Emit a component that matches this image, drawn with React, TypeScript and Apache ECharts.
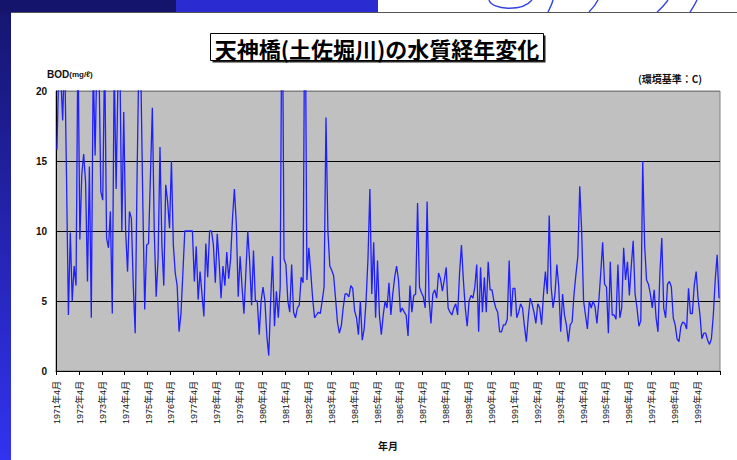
import React, { useEffect, useRef } from "react";
import * as echarts from "echarts";

// ---- data: BOD (mg/ℓ), monthly, April of each fiscal year to March of the next ----
const startYear = 1971;
const monthOrder = [4, 5, 6, 7, 8, 9, 10, 11, 12, 1, 2, 3];

const bod1971 = [15.8, 22, 21, 17.9, 23, 14, 4.0, 9.9, 5.0, 7.5, 6.1, 24];
const bod1972 = [9.4, 14, 15.5, 13.5, 6.4, 14.6, 3.8, 22, 15.4, 23, 22, 12.8];
const bod1973 = [12.2, 23, 9.5, 8.8, 11.4, 4.1, 22, 13, 21, 22, 10, 18.5];
const bod1974 = [10, 7.1, 11.4, 10.9, 6.1, 2.7, 14, 23, 21, 12, 4.4, 9.0];
const bod1975 = [9.1, 14, 18.8, 10, 5.3, 8, 16, 9, 6.1, 13.3, 12.1, 10.2];
const bod1976 = [15, 9, 7, 6.1, 2.8, 4.1, 7, 10, 10, 10, 10, 10];
const bod1977 = [6.4, 8.9, 5.1, 7.1, 5.5, 3.9, 9.1, 6.7, 10, 10, 9.0, 6.3];
const bod1978 = [9.8, 7.8, 5.2, 7.5, 6.1, 8.5, 6.6, 8, 10.9, 13, 10.5, 5.3];
const bod1979 = [8.2, 6, 4.1, 7, 10, 7.8, 4.7, 8.6, 5, 5, 2.6, 5];
const bod1980 = [6, 5, 2.5, 1.1, 5, 8.2, 3.2, 5.7, 3.8, 6, 30, 8];
const bod1981 = [7.6, 5, 4.2, 7.6, 4.2, 3.8, 4.5, 4.7, 6.7, 6.3, 30, 6.5];
const bod1982 = [8.8, 7.1, 5.2, 3.8, 4, 4.2, 4.1, 5, 6, 18.1, 10, 7.5];
const bod1983 = [7.2, 6.8, 5.2, 3.5, 2.7, 3.2, 4.5, 5.5, 5.5, 5.3, 6.1, 5.9];
const bod1984 = [4.3, 3.8, 2.6, 5, 2.2, 3, 5, 8, 13, 5.5, 9.2, 3.8];
const bod1985 = [7.9, 4, 2.6, 4, 5, 4.5, 6.3, 4, 5.5, 6.7, 7.5, 6.5];
const bod1986 = [4.2, 4.5, 4.2, 4, 2.5, 6.1, 4.2, 5.4, 5.5, 12, 6, 5.6];
const bod1987 = [5.3, 4.5, 12.1, 5.2, 3.4, 5.5, 5.8, 5.2, 7, 6.6, 5.7, 6.5];
const bod1988 = [7.4, 4.5, 4.2, 4, 4.5, 4.8, 4, 7, 9, 6.5, 4.5, 3.2];
const bod1989 = [5, 5.4, 5.2, 6, 7.6, 2.8, 7.4, 4.2, 6.7, 4.2, 7.8, 5.8];
const bod1990 = [5.8, 5, 4.5, 4.2, 2.8, 2.8, 3.3, 3.3, 3.7, 7.9, 3.9, 5.9];
const bod1991 = [5.9, 3.8, 4.2, 4.8, 4.5, 3.2, 2.1, 3.8, 5.2, 4.8, 4.2, 3.4];
const bod1992 = [4.8, 4.5, 3.3, 5.5, 7.1, 5.5, 11.1, 6, 4.5, 5.5, 7.6, 6];
const bod1993 = [2.8, 5.5, 4, 3.3, 2.1, 3.3, 3.5, 5.5, 6.9, 8.2, 13.2, 10];
const bod1994 = [5, 4, 3, 5, 4.5, 5, 4.6, 3.4, 5, 7, 9.2, 6.2];
const bod1995 = [6, 2.7, 7.8, 4, 4, 3.7, 7.6, 3.8, 4.5, 8.8, 6.5, 7.8];
const bod1996 = [5.4, 7.5, 9.3, 5.5, 4.5, 3.2, 3.6, 15, 9, 6.5, 6.2, 5.5];
const bod1997 = [4.5, 5.8, 3.8, 2.8, 7, 9.5, 4.5, 3.8, 6.2, 6.4, 6, 3.8];
const bod1998 = [3.3, 2.3, 2.1, 3.2, 3.5, 3.4, 3, 5.9, 4.1, 4.1, 6.1, 7.1];
const bod1999 = [5.2, 4, 2.3, 2.7, 2.7, 2.2, 1.9, 2.3, 4, 6.5, 8.3, 5.2];

const yearly = [
  bod1971, bod1972, bod1973, bod1974, bod1975, bod1976, bod1977, bod1978,
  bod1979, bod1980, bod1981, bod1982, bod1983, bod1984, bod1985, bod1986,
  bod1987, bod1988, bod1989, bod1990, bod1991, bod1992, bod1993, bod1994,
  bod1995, bod1996, bod1997, bod1998, bod1999,
];

const yTicks = [0, 5, 10, 15, 20];

const titleText = "天神橋(土佐堀川)の水質経年変化";
const yName = "BOD";
const yUnit = "(mg/ℓ)";
const standardText = "(環境基準：C)";
const xName = "年月";

const categories: string[] = [];
yearly.forEach((_, k) => {
  monthOrder.forEach((m) => {
    const y = m >= 4 ? startYear + k : startYear + k + 1;
    categories.push(`${y}年${m}月`);
  });
});
const values: number[] = ([] as number[]).concat(...yearly);

const FONT = "'Liberation Sans', Arial, 'Noto Sans CJK JP', sans-serif";
const JFONT = "'Noto Sans CJK JP', 'Liberation Sans', sans-serif";

export default function App() {
  const ref = useRef<HTMLDivElement>(null);
  useEffect(() => {
    if (!ref.current) return;
    const chart = echarts.init(ref.current, undefined, { renderer: "svg" });
    const option: any = {
      animation: false,
      backgroundColor: "#ffffff",
      grid: {
        left: 56,
        right: 17,
        top: 91,
        bottom: 89,
        show: true,
        backgroundColor: "#c0c0c0",
        borderColor: "#808080",
        borderWidth: 1,
      },
      xAxis: {
        type: "category",
        data: categories,
        boundaryGap: true,
        axisLine: { show: true, lineStyle: { color: "#000", width: 1 } },
        axisTick: { show: true, interval: 11, length: 4, lineStyle: { color: "#000" } },
        axisLabel: {
          interval: 11,
          rotate: 90,
          fontSize: 9,
          margin: 10,
          color: "#111",
          fontFamily: FONT,
        },
        splitLine: { show: false },
      },
      yAxis: {
        type: "value",
        min: yTicks[0],
        max: yTicks[yTicks.length - 1],
        interval: 5,
        axisLine: { show: true, lineStyle: { color: "#000", width: 1 } },
        axisTick: { show: false },
        axisLabel: {
          fontSize: 10,
          fontWeight: "bold",
          color: "#111",
          margin: 9,
          fontFamily: FONT,
        },
        splitLine: {
          show: true,
          lineStyle: { color: ["#000", "#000", "#000", "#000", "#808080"], width: 1 },
        },
      },
      series: [
        {
          type: "line",
          data: values,
          symbol: "none",
          clip: true,
          lineStyle: { color: "#1f1fff", width: 1.3 },
        },
      ],
      graphic: [
        // slide decorations
        {
          type: "rect",
          shape: { x: 0, y: 0, width: 11, height: 460 },
          style: {
            fill: new echarts.graphic.LinearGradient(0, 0, 0, 1, [
              { offset: 0, color: "#15156e" },
              { offset: 1, color: "#3232f0" },
            ]),
          },
          z: 10,
        },
        { type: "rect", shape: { x: 0, y: 0, width: 176, height: 12 }, style: { fill: "#14146c" }, z: 10 },
        { type: "rect", shape: { x: 176, y: 0, width: 202, height: 12 }, style: { fill: "#2b2bd2" }, z: 10 },
        {
          type: "line",
          shape: { x1: 11, y1: 12.5, x2: 737, y2: 12.5 },
          style: { stroke: "#555", lineWidth: 1 },
          z: 10,
        },
        {
          type: "bezierCurve",
          shape: { x1: 489, y1: 0, cpx1: 492, cpy1: 10, cpx2: 522, cpy2: 12, x2: 532, y2: 0 },
          style: { stroke: "#3344dd", lineWidth: 1.4, fill: null },
          z: 10,
        },
        {
          type: "bezierCurve",
          shape: { x1: 553, y1: 0, cpx1: 552, cpy1: 4, cpx2: 550, cpy2: 8, x2: 548, y2: 12 },
          style: { stroke: "#3344dd", lineWidth: 1.4, fill: null },
          z: 10,
        },
        {
          type: "bezierCurve",
          shape: { x1: 598, y1: 0, cpx1: 596, cpy1: 4, cpx2: 593, cpy2: 8, x2: 589, y2: 12 },
          style: { stroke: "#3344dd", lineWidth: 1.4, fill: null },
          z: 10,
        },
        {
          type: "bezierCurve",
          shape: { x1: 668, y1: 0, cpx1: 665, cpy1: 4, cpx2: 662, cpy2: 8, x2: 657, y2: 12 },
          style: { stroke: "#3344dd", lineWidth: 1.4, fill: null },
          z: 10,
        },
        {
          type: "bezierCurve",
          shape: { x1: 697, y1: 0, cpx1: 695, cpy1: 4, cpx2: 693, cpy2: 8, x2: 690, y2: 12 },
          style: { stroke: "#3344dd", lineWidth: 1.4, fill: null },
          z: 10,
        },
        // title box
        {
          type: "rect",
          shape: { x: 212.5, y: 35.5, width: 333, height: 27 },
          style: { fill: "#222" },
          z: 10,
        },
        {
          type: "rect",
          shape: { x: 210.5, y: 33.5, width: 333, height: 27 },
          style: { fill: "#fff", stroke: "#000", lineWidth: 1 },
          z: 11,
        },
        {
          type: "text",
          x: 377,
          y: 47.5,
          style: {
            text: titleText,
            fontSize: 22,
            fontWeight: "bold",
            fontFamily: JFONT,
            fill: "#000",
            align: "center",
            verticalAlign: "middle",
          },
          z: 12,
        },
        {
          type: "text",
          x: 47,
          y: 74,
          style: {
            text: `{a|${yName}}{b|${yUnit}}`,
            rich: {
              a: { fontSize: 10, fontWeight: "bold", fontFamily: FONT, fill: "#111" },
              b: { fontSize: 8, fontWeight: "bold", fontFamily: FONT, fill: "#111" },
            },
            align: "left",
            verticalAlign: "middle",
          },
          z: 12,
        },
        {
          type: "text",
          x: 702,
          y: 78,
          style: {
            text: standardText,
            fontSize: 10,
            fontWeight: "bold",
            fontFamily: JFONT,
            fill: "#111",
            align: "right",
            verticalAlign: "middle",
          },
          z: 12,
        },
        {
          type: "text",
          x: 388,
          y: 445,
          style: {
            text: xName,
            fontSize: 10,
            fontWeight: "bold",
            fontFamily: JFONT,
            fill: "#111",
            align: "center",
            verticalAlign: "middle",
          },
          z: 12,
        },
      ],
    };
    chart.setOption(option);
    return () => chart.dispose();
  }, []);
  return (
    <div
      ref={ref}
      style={{ position: "absolute", left: 0, top: 0, width: 737, height: 460, background: "#fff" }}
    />
  );
}
